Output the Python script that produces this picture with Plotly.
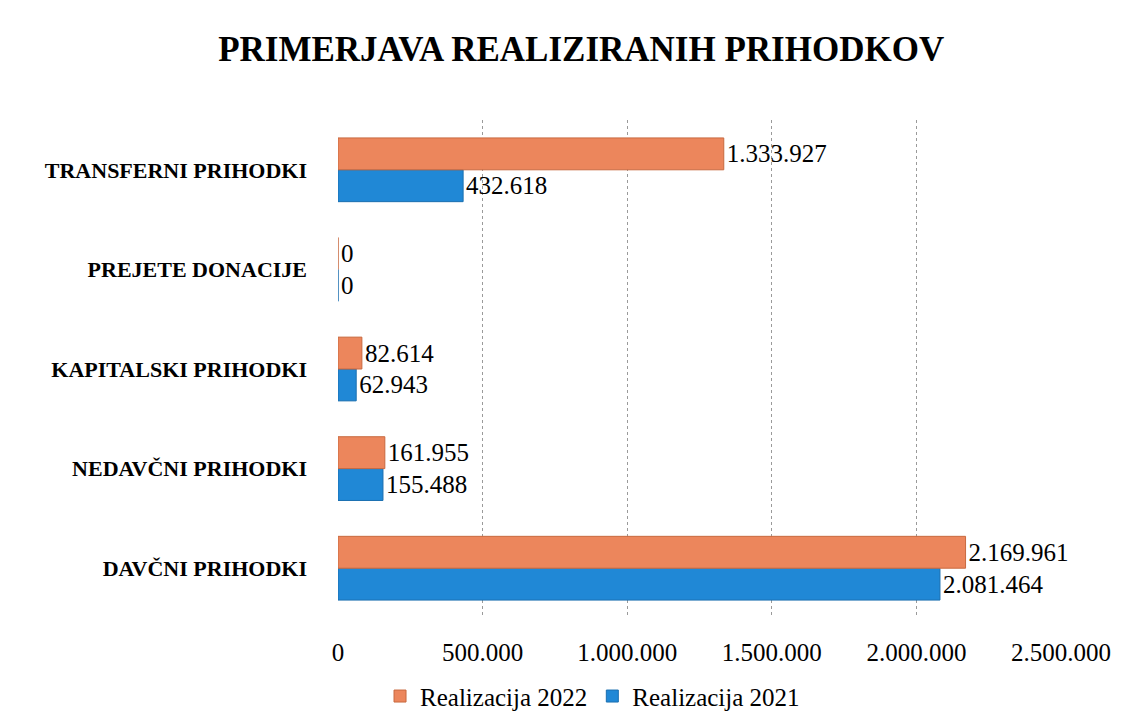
import plotly.graph_objects as go

# Data ---------------------------------------------------------------
categories = ["DAVČNI PRIHODKI", "NEDAVČNI PRIHODKI", "KAPITALSKI PRIHODKI",
              "PREJETE DONACIJE", "TRANSFERNI PRIHODKI"]
real_2021 = [2081464, 155488, 62943, 0, 432618]
real_2022 = [2169961, 161955, 82614, 0, 1333927]
x_ticks = [0, 500000, 1000000, 1500000, 2000000, 2500000]

orange = "#EC865C"
blue = "#2088D6"
font_family = "Liberation Serif, Times New Roman, serif"

fig = go.Figure()

# 2021 first so that it sits below 2022 inside each group
fig.add_trace(go.Bar(
    y=categories, x=real_2021, orientation="h", name="Realizacija 2021",
    marker=dict(color=blue, line=dict(color="#1A6FB0", width=1)),
    texttemplate="%{x:,}", textposition="outside",
    textfont=dict(size=25, color="black"), cliponaxis=False,
))
fig.add_trace(go.Bar(
    y=categories, x=real_2022, orientation="h", name="Realizacija 2022",
    marker=dict(color=orange, line=dict(color="#C8693F", width=1)),
    texttemplate="%{x:,}", textposition="outside",
    textfont=dict(size=25, color="black"), cliponaxis=False,
))

fig.update_layout(
    width=1135, height=714,
    paper_bgcolor="white", plot_bgcolor="white",
    font=dict(family=font_family, color="black", size=20),
    separators=",.",
    barmode="group", bargap=0.36, bargroupgap=0.0,
    margin=dict(l=330, r=82, t=112, b=104, autoexpand=False),
    title=dict(text="<b>PRIMERJAVA REALIZIRANIH PRIHODKOV</b>",
               font=dict(size=35, family=font_family),
               x=0.505, xanchor="center", y=0.943, yanchor="middle"),
    legend=dict(orientation="h", traceorder="reversed",
                xref="container", yref="container",
                x=0.515, xanchor="center", y=0.036, yanchor="middle",
                font=dict(size=25), itemwidth=30),
    showlegend=True,
)

fig.update_xaxes(
    range=[0, 2500000], tickvals=x_ticks, tickformat=",d",
    showgrid=True, gridcolor="#9A9A9A", griddash="dot", gridwidth=1,
    zeroline=False, showline=False, ticks="",
    tickfont=dict(size=25), ticklabelstandoff=17,
)
fig.update_yaxes(
    showgrid=False, zeroline=False, showline=False, ticks="",
    tickfont=dict(size=22), ticklabelstandoff=30,
    tickprefix="<b>", ticksuffix="</b>",
)

fig.write_html("out.html")
